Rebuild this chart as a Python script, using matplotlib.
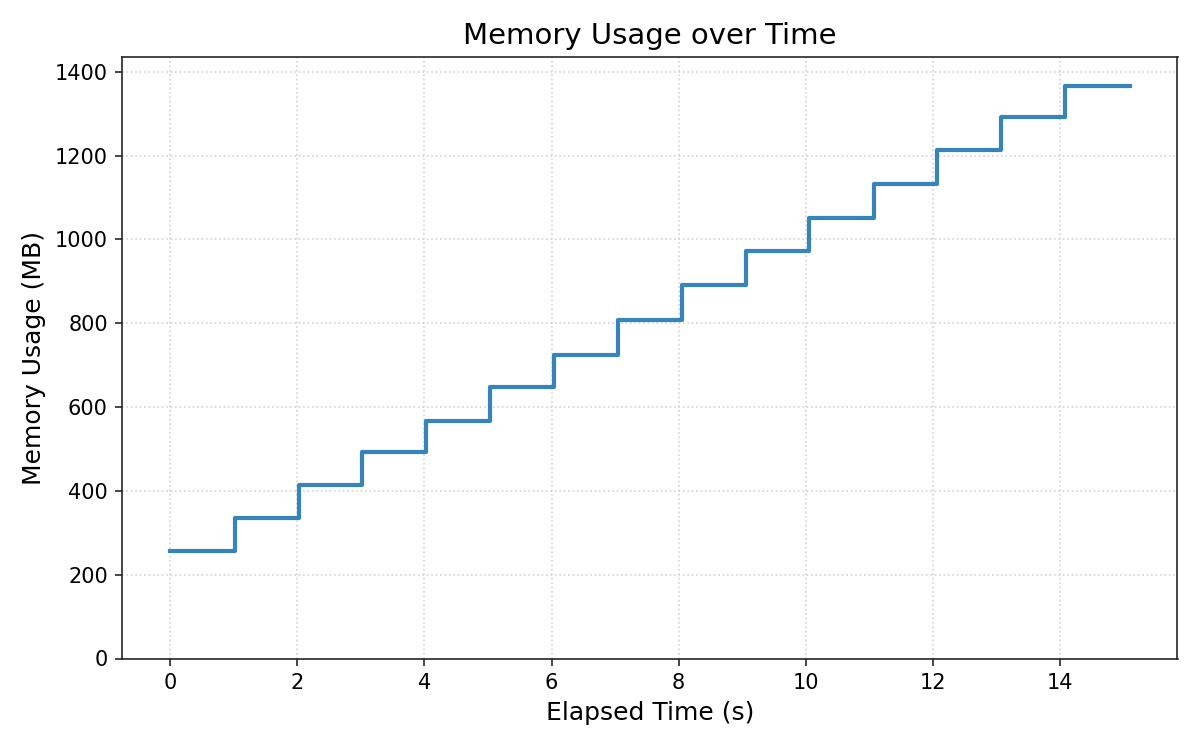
import matplotlib

matplotlib.use("Agg")
import matplotlib.pyplot as plt

# elapsed time (s) and memory usage (MB), sampled once per step
elapsed_s = [0.0, 1.01, 2.02, 3.02, 4.03, 5.03, 6.04, 7.04, 8.05, 9.06,
             10.06, 11.07, 12.07, 13.08, 14.09, 15.1]
memory_mb = [257, 336, 413, 493, 567, 648, 725, 807, 891, 972,
             1052, 1133, 1214, 1292, 1367, 1367]


def plot_memory(file_path="out.png"):
    fig, ax = plt.subplots(figsize=(8, 5), dpi=150)
    ax.step(elapsed_s, memory_mb, where="post", color="tab:blue",
            alpha=0.9, linewidth=2)

    ax.set_ylim(0, max(memory_mb) * 1.05)
    ax.set_title("Memory Usage over Time", fontsize=14)
    ax.set_xlabel("Elapsed Time (s)", fontsize=12)
    ax.set_ylabel("Memory Usage (MB)", fontsize=12)
    ax.grid(True, linestyle=":", color="lightgray", alpha=1.0)
    for spine in ax.spines.values():
        spine.set_color("#262626")
    ax.tick_params(color="#262626")

    fig.tight_layout()
    fig.subplots_adjust(bottom=0.122)
    fig.savefig(file_path)


if __name__ == "__main__":
    plot_memory()
